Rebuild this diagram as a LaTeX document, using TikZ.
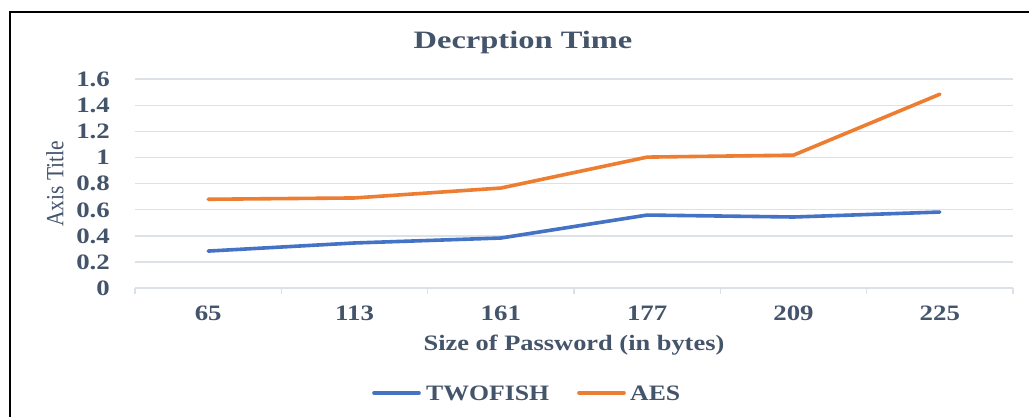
\documentclass[tikz,border=0pt]{standalone}
\usepackage{graphicx}
\usepackage{fontspec}
\setmainfont{Liberation Serif}
\definecolor{txt}{HTML}{44546A}
\definecolor{gridc}{HTML}{DCE1E8}
\definecolor{twofishc}{HTML}{4472C4}
\definecolor{aesc}{HTML}{ED7D31}
\newcommand{\widen}[2]{\scalebox{#1}[1]{#2}}
\begin{document}
\begin{tikzpicture}[x=1pt,y=-1pt,
  lbl/.style={text=txt, inner sep=0pt, anchor=base, font=\fontsize{22}{24}\selectfont\bfseries},
  ylbl/.style={text=txt, inner sep=0pt, anchor=base east, font=\fontsize{22}{24}\selectfont\bfseries},
  gridline/.style={draw=gridc, line width=1.4pt},
  series/.style={line width=3.6pt, line cap=round, line join=round},
  frameline/.style={draw=black, line width=2.6pt}]
  \useasboundingbox (0,0) rectangle (1029,417);
  \fill[white] (0,0) rectangle (1029,417);

  % outer frame
  \draw[frameline] (10,418) -- (10,12) -- (1030,12);

  % title
  \node[lbl, font=\fontsize{25}{27}\selectfont\bfseries] (title) at (523,49) {\widen{1.3}{Decrption Time}};

  % horizontal grid and value labels
  \foreach \i/\t in {0/0,1/0.2,2/0.4,3/0.6,4/0.8,5/1,6/1.2,7/1.4,8/1.6}{
    \pgfmathsetmacro{\yy}{288-\i*26.1}
    \draw[gridline] (135,\yy) -- (1013,\yy);
    \node[ylbl] (v\i) at (110,\yy+7.4) {\widen{1.22}{\t}};
  }
  % category ticks
  \foreach \k in {0,...,6}{
    \draw[gridline] (135+\k*146.33,288) -- (135+\k*146.33,294);
  }
  % category labels
  \foreach \k/\t in {0/65,1/113,2/161,3/177,4/209,5/225}{
    \node[lbl] (c\k) at (208.2+\k*146.33,320) {\widen{1.22}{\t}};
  }

  % axis titles
  \node[lbl] (xtitle) at (574,350) {\widen{1.2}{Size of Password (in bytes)}};
  \node[text=txt, inner sep=0pt, rotate=90, font=\fontsize{21.5}{24}\selectfont] (ytitle) at (55,184) {\scalebox{1}[1.15]{Axis Title}};

  % data points
  \foreach \k/\a/\b in {0/0.283/0.68,1/0.345/0.69,2/0.383/0.766,3/0.559/1.003,4/0.544/1.018,5/0.582/1.485}{
    \coordinate (t\k) at (208.2+\k*146.33,288-\a*130.5);
    \coordinate (a\k) at (208.2+\k*146.33,288-\b*130.5);
  }
  \draw[series, twofishc] (t0) -- (t1) -- (t2) -- (t3) -- (t4) -- (t5);
  \draw[series, aesc] (a0) -- (a1) -- (a2) -- (a3) -- (a4) -- (a5);

  % legend
  \coordinate (lt1) at (374,393);
  \coordinate (lt2) at (419,393);
  \coordinate (la1) at (579,393);
  \coordinate (la2) at (624,393);
  \draw[series, twofishc] (lt1) -- (lt2);
  \draw[series, aesc] (la1) -- (la2);
  \node[lbl, anchor=base west] (ltxt) at (426,400) {\widen{1.17}{TWOFISH}};
  \node[lbl, anchor=base west] (latxt) at (630,400) {\widen{1.17}{AES}};
\end{tikzpicture}
\end{document}
